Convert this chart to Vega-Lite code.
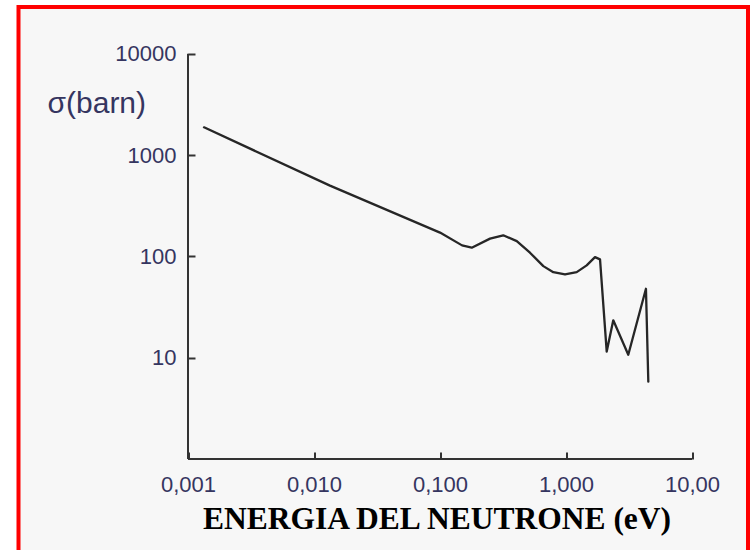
{
  "$schema": "https://vega.github.io/schema/vega-lite/v6.json",
  "autosize": {"type": "none"},
  "padding": {"left": 18.5, "top": 7, "right": 2, "bottom": 0},
  "width": 729.5,
  "height": 560,
  "background": "white",
  "config": {
    "view": {"fill": "#f7f7f7", "stroke": "#ff0000", "strokeWidth": 4},
    "font": "Liberation Sans"
  },
  "layer": [
    {
      "data": {"values": [
        {"E": 0.00134, "sigma": 1880},
        {"E": 0.01339, "sigma": 500},
        {"E": 0.1, "sigma": 171.7},
        {"E": 0.1496, "sigma": 128.5},
        {"E": 0.1786, "sigma": 121.9},
        {"E": 0.2494, "sigma": 149.7},
        {"E": 0.3177, "sigma": 161.5},
        {"E": 0.4067, "sigma": 141.7},
        {"E": 0.5176, "sigma": 108.8},
        {"E": 0.6607, "sigma": 80.2},
        {"E": 0.793, "sigma": 69.9},
        {"E": 0.982, "sigma": 66.3},
        {"E": 1.216, "sigma": 69.9},
        {"E": 1.459, "sigma": 81.5},
        {"E": 1.698, "sigma": 98.4},
        {"E": 1.862, "sigma": 93.4},
        {"E": 2.104, "sigma": 11.5},
        {"E": 2.372, "sigma": 23.4},
        {"E": 3.12, "sigma": 10.7},
        {"E": 4.31, "sigma": 47.9},
        {"E": 4.5, "sigma": 5.8}
      ]},
      "mark": {"type": "line", "color": "#262626", "strokeWidth": 2.3, "strokeJoin": "round", "strokeCap": "round"},
      "encoding": {
        "x": {"field": "E", "type": "quantitative",
              "scale": {"type": "log", "domain": [0.00004516, 27.82], "nice": false},
              "axis": {
                "orient": "bottom", "offset": -108, "domain": false, "grid": false,
                "values": [0.001, 0.01, 0.1, 1, 10],
                "tickSize": -7, "tickColor": "#333333", "tickWidth": 2,
                "labelPadding": 22, "labelFontSize": 22, "labelColor": "#353560", "labelFont": "Liberation Sans",
                "labelExpr": "datum.value < 0.005 ? '0,001' : datum.value < 0.05 ? '0,010' : datum.value < 0.5 ? '0,100' : datum.value < 5 ? '1,000' : '10,00'",
                "title": "ENERGIA DEL NEUTRONE (eV)",
                "titleFont": "Liberation Serif", "titleFontWeight": "bold", "titleFontSize": 31.5, "titleColor": "#000000",
                "titleAnchor": "start", "titleAlign": "center", "titleBaseline": "alphabetic",
                "titleX": 418, "titleY": 69
              }},
        "y": {"field": "sigma", "type": "quantitative",
              "scale": {"type": "log", "domain": [0.0859, 28970], "nice": false},
              "axis": {
                "orient": "left", "offset": -169.5, "domain": false, "grid": false,
                "values": [10, 100, 1000, 10000],
                "tickSize": -7, "tickColor": "#333333", "tickWidth": 2,
                "labelPadding": 19, "labelFontSize": 22, "labelColor": "#353560", "labelFont": "Liberation Sans",
                "labelExpr": "datum.value < 50 ? '10' : datum.value < 500 ? '100' : datum.value < 5000 ? '1000' : '10000'",
                "title": "σ(barn)",
                "titleFont": "Liberation Sans", "titleFontWeight": "normal", "titleFontSize": 30, "titleColor": "#353560",
                "titleAngle": 0, "titleAlign": "left", "titleBaseline": "alphabetic", "titleAnchor": "start",
                "titleX": -141, "titleY": 105
              }}
      }
    },
    {
      "data": {"values": [
        {"x": 0.001, "y": 1, "x2": 0.001, "y2": 10000},
        {"x": 0.001, "y": 1, "x2": 10, "y2": 1}
      ]},
      "mark": {"type": "rule", "color": "#333333", "strokeWidth": 2},
      "encoding": {
        "x": {"field": "x", "type": "quantitative"},
        "x2": {"field": "x2"},
        "y": {"field": "y", "type": "quantitative"},
        "y2": {"field": "y2"}
      }
    }
  ]
}
